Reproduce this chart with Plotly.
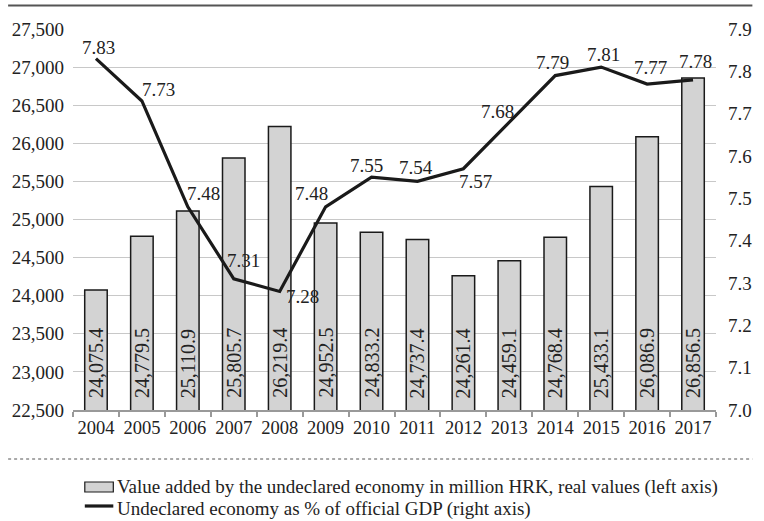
import plotly.graph_objects as go

# Data
years = ["2004", "2005", "2006", "2007", "2008", "2009", "2010",
         "2011", "2012", "2013", "2014", "2015", "2016", "2017"]
value_added = [24075.4, 24779.5, 25110.9, 25805.7, 26219.4, 24952.5, 24833.2,
               24737.4, 24261.4, 24459.1, 24768.4, 25433.1, 26086.9, 26856.5]
share_gdp = [7.83, 7.73, 7.48, 7.31, 7.28, 7.48, 7.55,
             7.54, 7.57, 7.68, 7.79, 7.81, 7.77, 7.78]
left_ticks = list(range(22500, 27501, 500))
right_ticks = [7.0, 7.1, 7.2, 7.3, 7.4, 7.5, 7.6, 7.7, 7.8, 7.9]

bar_name = "Value added by the undeclared economy in million HRK, real values (left axis)"
line_name = "Undeclared economy as % of official GDP (right axis)"

# Label nudges for the line values (pixels: dx right, dy down)
line_label_nudge = [(3, -11), (17, -11), (16, -13), (10, -18), (23, 5), (-14, -13), (-5, -12),
                    (-1, -14), (12, 13), (-12, -11), (-3, -13), (2, -13), (3, -17), (2, -18)]

FONT = "'Liberation Serif', 'Times New Roman', 'DejaVu Serif', serif"
INK = "#222222"
BAR_FILL = "#d3d3d3"

W, H = 764, 521
ML, MR, MT, MB = 71, 39, 29, 111
PW, PH = W - ML - MR, H - MT - MB


def px(xp):
    return (xp - ML) / PW


def py(yp):
    return (H - MB - yp) / PH


fig = go.Figure()

fig.add_trace(go.Bar(
    x=years, y=value_added, name=bar_name,
    marker=dict(color=BAR_FILL, line=dict(color="#1a1a1a", width=1.5)),
    showlegend=False, hoverinfo="skip",
))

fig.add_trace(go.Scatter(
    x=years, y=share_gdp, name=line_name, yaxis="y2",
    mode="lines", line=dict(color="#1a1a1a", width=3.2),
    showlegend=False, hoverinfo="skip",
))

annotations = []
# Bar values, written upwards from the base of each bar
for i, v in enumerate(value_added):
    annotations.append(dict(
        x=i, y=left_ticks[0], xref="x", yref="y", text=f"{v:,.1f}", showarrow=False,
        textangle=-90, xanchor="center", yanchor="bottom", yshift=10,
        font=dict(family=FONT, size=20, color=INK),
    ))

# Line values
for i, (v, (dx, dy)) in enumerate(zip(share_gdp, line_label_nudge)):
    annotations.append(dict(
        x=i, y=v, xref="x", yref="y2", text=f"{v:.2f}", showarrow=False,
        xshift=dx, yshift=-dy, font=dict(family=FONT, size=19, color=INK),
    ))

# Rules and legend below the chart
shapes = [
    dict(type="line", xref="paper", yref="paper", x0=px(5), x1=px(762), y0=py(5.5), y1=py(5.5),
         line=dict(color="#555555", width=2)),
    dict(type="line", xref="paper", yref="paper", x0=px(5), x1=px(762), y0=py(459), y1=py(459),
         line=dict(color="#555555", width=1, dash="dot")),
    dict(type="rect", xref="paper", yref="paper", x0=px(83), x1=px(112), y0=py(482), y1=py(492),
         fillcolor=BAR_FILL, line=dict(color="#1a1a1a", width=1.2)),
    dict(type="line", xref="paper", yref="paper", x0=px(83), x1=px(112), y0=py(506), y1=py(506),
         line=dict(color="#1a1a1a", width=3.2)),
]
annotations.append(dict(x=px(114), y=py(487), xref="paper", yref="paper", text=bar_name,
                        showarrow=False, xanchor="left", yanchor="middle",
                        font=dict(family=FONT, size=19, color=INK)))
annotations.append(dict(x=px(114), y=py(509), xref="paper", yref="paper", text=line_name,
                        showarrow=False, xanchor="left", yanchor="middle",
                        font=dict(family=FONT, size=19, color=INK)))

fig.update_layout(
    width=W, height=H,
    margin=dict(l=ML, r=MR, t=MT, b=MB, pad=0),
    paper_bgcolor="white", plot_bgcolor="white",
    font=dict(family=FONT, size=19, color=INK),
    bargap=0.51,
    xaxis=dict(
        type="category", range=[-0.5, len(years) - 0.5],
        showgrid=False, showline=True, linecolor="#999999", linewidth=2,
        ticks="outside", tickson="boundaries", ticklen=5, tickcolor="#999999", tickwidth=2,
        tickfont=dict(family=FONT, size=18.5, color=INK), tickangle=0,
    ),
    yaxis=dict(
        range=[22500, 27500], tickvals=left_ticks, tickformat=",d",
        showgrid=True, gridcolor="#c8c8c8", gridwidth=1, zeroline=False,
        showline=False, ticks="", ticklabelstandoff=8,
        tickfont=dict(family=FONT, size=19, color=INK),
    ),
    yaxis2=dict(
        range=[7.0, 7.9], tickvals=right_ticks, tickformat=".1f",
        overlaying="y", side="right", showgrid=False, zeroline=False,
        showline=False, ticks="", ticklabelstandoff=11,
        tickfont=dict(family=FONT, size=19, color=INK),
    ),
    shapes=shapes,
    annotations=annotations,
)

fig.write_html("out.html")
